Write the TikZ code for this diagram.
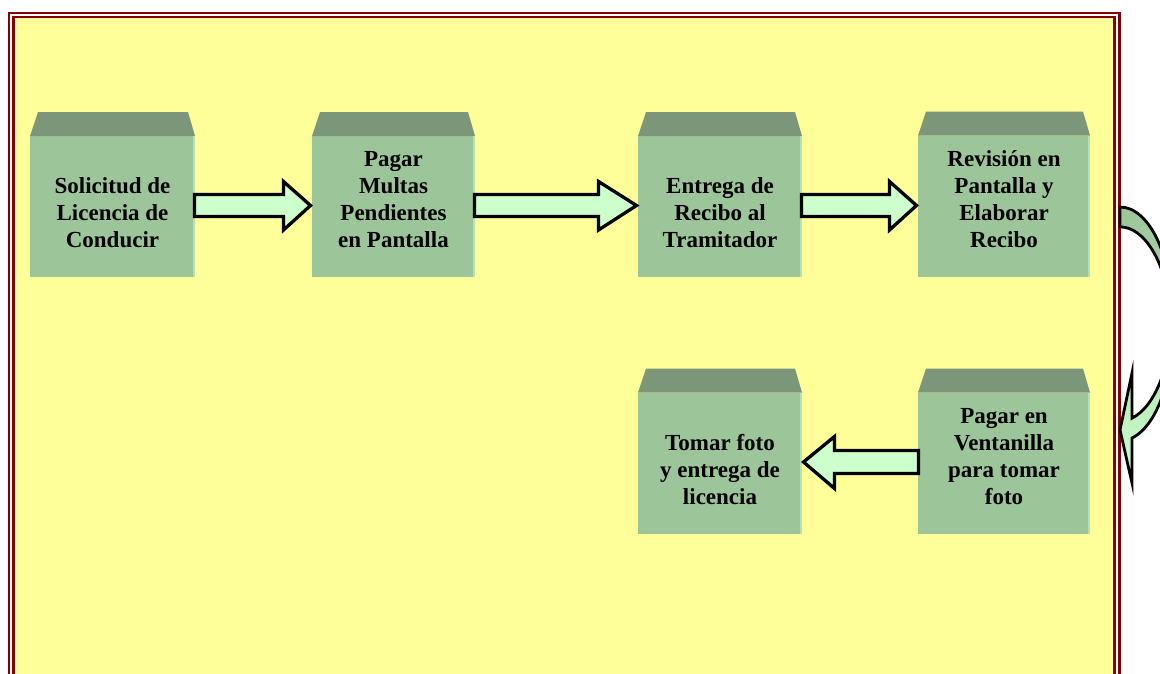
\documentclass[tikz,border=0pt]{standalone}
\usepackage{fontspec}
\setmainfont{Liberation Serif}
\usetikzlibrary{calc}
\definecolor{frameRed}{HTML}{850000}
\definecolor{bgYellow}{HTML}{FFFF99}
\definecolor{faceGreen}{HTML}{9CC59A}
\definecolor{topGreen}{HTML}{7B9679}
\definecolor{edgeGreen}{HTML}{B6E2B0}
\definecolor{arrFill}{HTML}{CCFFCC}
\tikzset{
  face/.style={fill=faceGreen, inner sep=0pt, outer sep=0pt, minimum height=141pt},
  topface/.style={fill=topGreen},
  lightedge/.style={draw=edgeGreen, line width=2pt},
  boxtext/.style={inner sep=0pt, outer sep=0pt, align=center, anchor=south,
     font=\bfseries\fontsize{23}{27}\selectfont, text=black},
  barrow/.style={fill=arrFill, draw=black, line width=3.3pt, line join=miter},
  framebox/.style={draw=frameRed, line width=2.5pt},
}
\newcommand\mkbox[4]{% name, center, width, text
  \node[face, minimum width=#3pt] (#1) at #2 {};
  \fill[topface] (#1.north west) -- ($(#1.north west)+(8,-24)$) -- ($(#1.north east)+(-7,-24)$) -- (#1.north east) -- cycle;
  \draw[lightedge] ($(#1.north east)+(-1,0)$) -- ($(#1.south east)+(-1,0)$);
  \node[boxtext] (#1t) at ($(#1.south)+(0,-29)$) {#4};
}
\newcommand\rarr[3]{% from, to, head base offset
  \draw[barrow] let \p1=(#1.east), \p2=(#2.west) in
   (\x1-0.5pt,\y1+12pt) -- (\x2-#3pt,\y1+12pt) -- (\x2-#3pt,\y1+25pt) -- (\x2-1.5pt,\y1+1pt)
   -- (\x2-#3pt,\y1-23.5pt) -- (\x2-#3pt,\y1-10pt) -- (\x1-0.5pt,\y1-10pt) -- cycle;
}
\newcommand\larr[3]{% from (right), to (left), head base offset
  \draw[barrow] let \p1=(#1.west), \p2=(#2.east) in
   (\x1+0.5pt,\y1+12.5pt) -- (\x2+#3pt,\y1+12.5pt) -- (\x2+#3pt,\y1+26.5pt) -- (\x2+1.5pt,\y1+1pt)
   -- (\x2+#3pt,\y1-25.5pt) -- (\x2+#3pt,\y1-10.5pt) -- (\x1+0.5pt,\y1-10.5pt) -- cycle;
}
\begin{document}
\begin{tikzpicture}[x=1pt,y=-1pt]
\useasboundingbox (0,0) rectangle (1160,673);
\clip (0,0) rectangle (1160,673);
\fill[white] (0,0) rectangle (1160,673);
% frame
\fill[bgYellow] (14.7,18) rectangle (1113.5,690);
\draw[framebox] (9,13) rectangle (1119.5,700);
\draw[framebox] (13.7,17) rectangle (1114.5,695);
% boxes
\mkbox{b1}{(112.5,206.5)}{165}{Solicitud de\\Licencia de\\Conducir}
\mkbox{b2}{(393.5,206.5)}{163}{Pagar\\Multas\\Pendientes\\en Pantalla}
\mkbox{b3}{(720,206.5)}{164}{Entrega de\\Recibo al\\Tramitador}
\mkbox{b4}{(1004,206)}{172}{Revisión en\\Pantalla y\\Elaborar\\Recibo}
\mkbox{b5}{(720,463)}{164}{Tomar foto\\y entrega de\\licencia}
\mkbox{b6}{(1004,463)}{172}{Pagar en\\Ventanilla\\para tomar\\foto}
% arrows
\rarr{b1}{b2}{28.5}
\rarr{b2}{b3}{39.5}
\rarr{b3}{b4}{28.5}
\larr{b6}{b5}{32.5}
% curved arrow from b4 to b6 (outside the frame)
\coordinate (ctail) at (1120,207);
\draw[top color=faceGreen, bottom color=arrFill, draw=black, line width=2.8pt, line join=miter]
  (ctail) arc[start angle=-90, end angle=76.7, x radius=52, y radius=107]
  -- (1132,373) -- (1120,430) -- (1132,483) -- (1132,438)
  arc[start angle=76.7, end angle=-90, x radius=52, y radius=107] -- cycle;
\end{tikzpicture}
\end{document}
